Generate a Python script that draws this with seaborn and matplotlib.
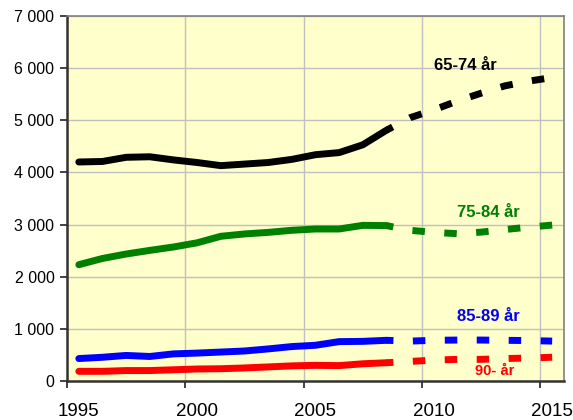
import numpy as np
import pandas as pd
import matplotlib
matplotlib.use("Agg")
import matplotlib.pyplot as plt
from matplotlib.ticker import FuncFormatter, MultipleLocator, FixedLocator, FixedFormatter, NullFormatter
import seaborn as sns

# Observed values (1995-2008) and projection (2008-2015)
years_hist = list(range(1995, 2009))
years_proj = list(range(2008, 2016))

age_65_74_hist = [4200, 4210, 4290, 4300, 4240, 4190, 4130, 4160, 4190, 4250, 4340, 4380, 4530, 4810]
age_65_74_proj = [4810, 5050, 5200, 5370, 5520, 5660, 5750, 5820]

age_75_84_hist = [2230, 2350, 2435, 2505, 2570, 2650, 2775, 2820, 2850, 2890, 2915, 2915, 2985, 2980]
age_75_84_proj = [2980, 2890, 2850, 2825, 2855, 2905, 2950, 2990]

age_85_89_hist = [430, 455, 490, 470, 520, 535, 555, 575, 615, 660, 685, 755, 760, 780]
age_85_89_proj = [780, 765, 780, 785, 785, 780, 775, 765]

age_90_hist = [185, 185, 200, 200, 215, 230, 235, 250, 270, 290, 300, 295, 330, 350]
age_90_proj = [350, 375, 400, 415, 415, 430, 440, 455]

tick_years = [1995, 2000, 2005, 2010, 2015]
labels = ["65-74 år", "75-84 år", "85-89 år", "90- år"]
colors = ["#000000", "#008000", "#0000FF", "#FF0000"]

series = [
    (age_65_74_hist, age_65_74_proj),
    (age_75_84_hist, age_75_84_proj),
    (age_85_89_hist, age_85_89_proj),
    (age_90_hist, age_90_proj),
]

sns.set_theme(style="white")
plt.rcParams["font.family"] = ["Liberation Sans", "DejaVu Sans"]

fig = plt.figure(figsize=(5.73, 4.20), dpi=100)
ax = fig.add_axes([0.1169, 0.0929, 0.8674, 0.869])
ax.set_facecolor("#FFFFCC")

# each year's value sits in the middle of its year interval
offset = 0.5
lw = 5.0
for (hist, proj), col in zip(series, colors):
    df_h = pd.DataFrame({"year": np.array(years_hist) + offset, "value": hist})
    df_p = pd.DataFrame({"year": np.array(years_proj) + offset, "value": proj})
    sns.lineplot(data=df_h, x="year", y="value", color=col, linewidth=lw,
                 ax=ax, solid_capstyle="round", solid_joinstyle="round", zorder=3)
    sns.lineplot(data=df_p, x="year", y="value", color=col, linewidth=lw,
                 ax=ax, linestyle=(0.8, (1.8, 2.8)), dash_capstyle="butt",
                 dash_joinstyle="round", zorder=3)

ax.set_xlim(1995, 2016)
ax.set_ylim(0, 7000)
ax.yaxis.set_major_locator(MultipleLocator(1000))
ax.yaxis.set_major_formatter(FuncFormatter(lambda v, p: f"{int(v):,}".replace(",", " ")))

# tick marks on year boundaries, labels centred in the year interval
ax.xaxis.set_major_locator(FixedLocator(tick_years))
ax.xaxis.set_major_formatter(NullFormatter())
ax.xaxis.set_minor_locator(FixedLocator([y + offset for y in tick_years]))
ax.xaxis.set_minor_formatter(FixedFormatter([str(y) for y in tick_years]))

ax.grid(True, which="major", color="#C0C0C0", linewidth=1.0, zorder=0)
ax.set_axisbelow(True)

for side in ["top", "right"]:
    ax.spines[side].set_color("#808080")
    ax.spines[side].set_linewidth(1.2)
for side in ["left", "bottom"]:
    ax.spines[side].set_color("#333333")
    ax.spines[side].set_linewidth(1.8)

ax.tick_params(axis="both", which="major", direction="out", length=5, width=1.3,
               color="#333333", labelsize=11.5, labelcolor="#000000",
               bottom=True, left=True)
ax.tick_params(axis="x", which="minor", length=0, bottom=True, labelbottom=True,
               labelsize=13.5, labelcolor="#000000", pad=16)
ax.tick_params(axis="y", pad=4)
ax.set_xlabel("")
ax.set_ylabel("")

ax.text(2011.84, 6060, labels[0], color=colors[0], fontsize=12, fontweight="bold",
        ha="center", va="center")
ax.text(2012.8, 3240, labels[1], color=colors[1], fontsize=12, fontweight="bold",
        ha="center", va="center")
ax.text(2012.8, 1245, labels[2], color=colors[2], fontsize=12, fontweight="bold",
        ha="center", va="center")
ax.text(2013.06, 190, labels[3], color=colors[3], fontsize=10.5, fontweight="bold",
        ha="center", va="center")

fig.savefig("out.png", dpi=100)
